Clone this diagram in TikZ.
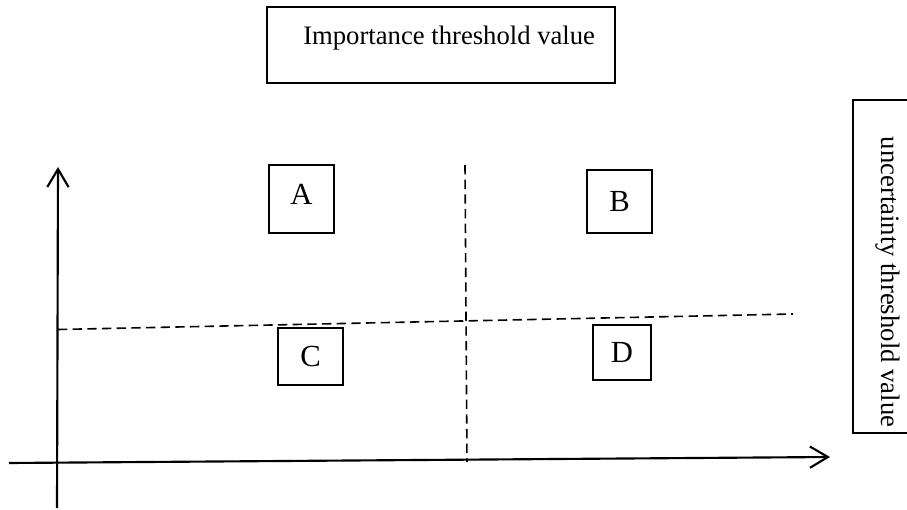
\documentclass[tikz,border=0pt]{standalone}
\usepackage{fontspec}
\setmainfont{Liberation Serif}
\usetikzlibrary{arrows.meta}

\tikzset{
  labelbox/.style={draw, line width=1.2pt, inner sep=0pt},
  quadbox/.style={draw, line width=1.2pt, inner sep=0pt,
    font=\fontsize{23}{27}\selectfont},
  labeltext/.style={inner sep=0pt, font=\fontsize{20}{24}\selectfont},
  axis/.style={line width=1.6pt, -{Straight Barb[length=13.5pt,width=16pt,line width=1.6pt]}},
  divider/.style={line width=1.2pt, dash pattern=on 7pt off 4pt}
}

\begin{document}
\begin{tikzpicture}[x=0.75pt, y=-0.75pt]
  \useasboundingbox (0,0) rectangle (907,510);

  % title box at the top
  \node[labelbox, minimum width=261pt, minimum height=57pt] (imp) at (441,45) {};
  \node[labeltext, anchor=base west] (imptext) at (303,45) {Importance threshold value};

  % side box on the right, partly cut by the page edge
  \begin{scope}
    \clip (0,0) rectangle (907,510);
    \node[labelbox, minimum width=51pt, minimum height=249.75pt] (unc) at (887,266.5) {};
  \end{scope}
  \node[labeltext, rotate=-90] (unctext) at (888,282) {uncertainty threshold value};

  % axes
  \coordinate (yb) at (57,508);
  \coordinate (yt) at (58,167);
  \coordinate (xl) at (9,463);
  \coordinate (xr) at (830,457);
  \draw[axis] (yb) -- (yt);
  \draw[axis] (xl) -- (xr);

  % quadrant dividers
  \coordinate (vt) at (465,165);
  \coordinate (vb) at (467,462);
  \coordinate (hl) at (58,329.5);
  \coordinate (hr) at (793,314);
  \draw[divider] (vt) -- (vb);
  \draw[divider] (hl) -- (hr);

  % quadrant boxes (A sits a little high in its box)
  \node[quadbox, minimum width=48.75pt, minimum height=51pt,
        text height=16pt, text depth=7.5pt] (A) at (301.5,199) {A};
  \node[quadbox, minimum width=48.75pt, minimum height=47.25pt] (B) at (619.5,201.5) {B};
  \node[quadbox, minimum width=48.75pt, minimum height=42.75pt] (C) at (310.5,356.5) {C};
  \node[quadbox, minimum width=43.5pt, minimum height=41.25pt] (D) at (622,352.5) {D};
\end{tikzpicture}
\end{document}
